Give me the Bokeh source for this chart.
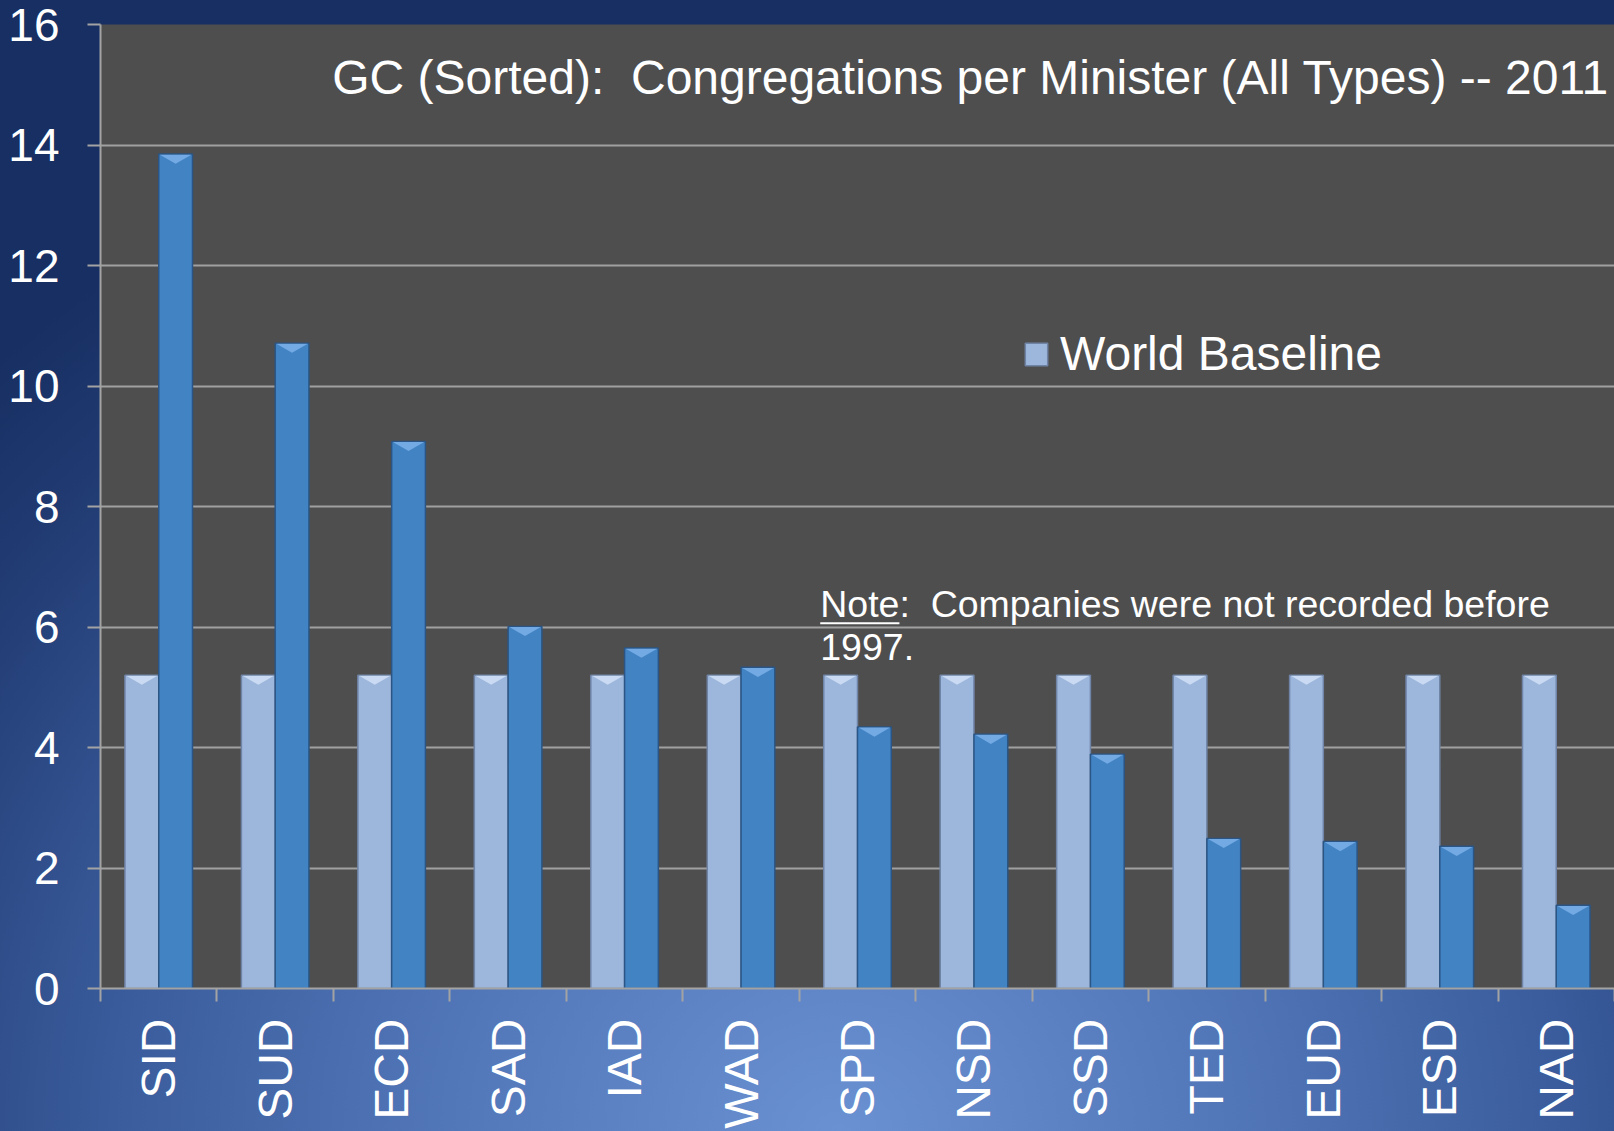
import numpy as np
from bokeh.plotting import figure
from bokeh.models import (Range1d, FixedTicker, Label, Legend, LegendItem,
                          BoxAnnotation, ColumnDataSource)
from bokeh.embed import file_html
from bokeh.resources import INLINE

# ---- data ----
regions = ["SID", "SUD", "ECD", "SAD", "IAD", "WAD", "SPD",
           "NSD", "SSD", "TED", "EUD", "ESD", "NAD"]
world_baseline = [5.2, 5.2, 5.2, 5.2, 5.2, 5.2, 5.2,
                  5.2, 5.2, 5.2, 5.2, 5.2, 5.2]
congregations_per_minister = [13.85, 10.71, 9.08, 6.01, 5.65, 5.33, 4.34,
                              4.22, 3.89, 2.49, 2.44, 2.36, 1.38]
y_ticks = [0, 2, 4, 6, 8, 10, 12, 14, 16]

title_text = "GC (Sorted):\u00a0 Congregations per Minister (All Types) -- 2011"
note_word = "Note"
note_line1 = ":\u00a0 Companies were not recorded before"
note_line2 = "1997."

FONT = "Liberation Sans"
W, H = 1614, 1131

idx = np.arange(len(regions))
centers = idx + 0.5
bar_w = 0.29
off = 0.145

p = figure(width=W, height=H, output_backend="svg", toolbar_location=None,
           x_range=Range1d(0, len(regions)), y_range=Range1d(0, 16),
           min_border_left=100, min_border_right=0, min_border_top=24,
           min_border_bottom=140)
p.styles = {"background": "radial-gradient(ellipse 75% 95% at 52% 100%, #6a91d2 0%, #5479bb 30%, #3a5c9c 60%, #223c74 85%, #172f62 100%)"}
p.border_fill_alpha = 0
p.background_fill_color = "#4e4e4e"
p.outline_line_color = None

# ---- bars ----
src = ColumnDataSource(dict(
    xb=centers - off, xv=centers + off,
    base=world_baseline, val=congregations_per_minister))
r_base = p.vbar(x="xb", top="base", width=bar_w, source=src,
                fill_color="#9db6dc", line_color="#6f84a6", line_width=1.5)
r_val = p.vbar(x="xv", top="val", width=bar_w, source=src,
               fill_color="#4283c4", line_color="#2b5584", line_width=1.5)

# bevel highlights on bar tops
bev = 0.16
def tri(xs, tops):
    return ([[x - bar_w / 2 + 0.01, x + bar_w / 2 - 0.01, x] for x in xs],
            [[t - 0.01, t - 0.01, t - bev] for t in tops])
bx, by = tri(centers - off, world_baseline)
p.patches(bx, by, fill_color="#c9daf2", line_color=None)
vx, vy = tri(centers + off, congregations_per_minister)
p.patches(vx, vy, fill_color="#74aae4", line_color=None)

# ---- axes ----
p.yaxis.ticker = FixedTicker(ticks=y_ticks)
p.yaxis.major_tick_out = 13
p.yaxis.major_tick_in = 0
p.yaxis.minor_tick_line_color = None
p.yaxis.major_label_standoff = 28
p.yaxis.major_label_text_font = FONT
p.yaxis.major_label_text_font_size = "46px"
p.yaxis.major_label_text_color = "white"
p.yaxis.axis_line_color = "#a3a3a3"
p.yaxis.axis_line_width = 2
p.yaxis.major_tick_line_color = "#a3a3a3"
p.yaxis.major_tick_line_width = 2

p.xaxis.ticker = FixedTicker(ticks=list(centers), minor_ticks=list(range(len(regions) + 1)))
p.xaxis.major_label_overrides = {float(c): r for c, r in zip(centers, regions)}
p.xaxis.major_tick_out = 0
p.xaxis.major_tick_in = 0
p.xaxis.minor_tick_out = 13
p.xaxis.minor_tick_in = 0
p.xaxis.minor_tick_line_color = "#a3a3a3"
p.xaxis.minor_tick_line_width = 2
p.xaxis.major_label_orientation = np.pi / 2
p.xaxis.major_label_standoff = 17
p.xaxis.major_label_text_font = FONT
p.xaxis.major_label_text_font_size = "48px"
p.xaxis.major_label_text_color = "white"
p.xaxis.axis_line_color = "#a3a3a3"
p.xaxis.axis_line_width = 2

p.xgrid.grid_line_color = None
p.ygrid.ticker = FixedTicker(ticks=y_ticks)
p.ygrid.grid_line_color = "#a0a0a0"
p.ygrid.grid_line_width = 2

# ---- texts ----
p.add_layout(Label(x=1.99, y=15.12, text=title_text, text_font=FONT,
                   text_font_size="48px", text_color="white",
                   text_baseline="alphabetic"))
nx = 6.18
nw = 0.68
p.add_layout(Label(x=nx, y=6.39, text=note_word, text_font=FONT,
                   text_font_size="37.5px", text_color="white",
                   text_baseline="alphabetic"))
p.add_layout(Label(x=nx + nw, y=6.39, text=note_line1, text_font=FONT,
                   text_font_size="37.5px", text_color="white",
                   text_baseline="alphabetic"))
p.add_layout(Label(x=nx, y=5.675, text=note_line2, text_font=FONT,
                   text_font_size="37.5px", text_color="white",
                   text_baseline="alphabetic"))
p.add_layout(BoxAnnotation(left=nx, right=nx + nw, bottom=6.045, top=6.08,
                           fill_color="white", fill_alpha=1, line_color=None))

legend = Legend(items=[LegendItem(label="World Baseline", renderers=[r_base])],
                location=(922, 607), background_fill_alpha=0, border_line_alpha=0,
                padding=0, margin=0, spacing=0, label_standoff=10,
                glyph_width=28, glyph_height=28,
                label_text_font=FONT, label_text_font_size="48px",
                label_text_color="white")
p.add_layout(legend)

open("out.html", "w").write(file_html(p, INLINE))
